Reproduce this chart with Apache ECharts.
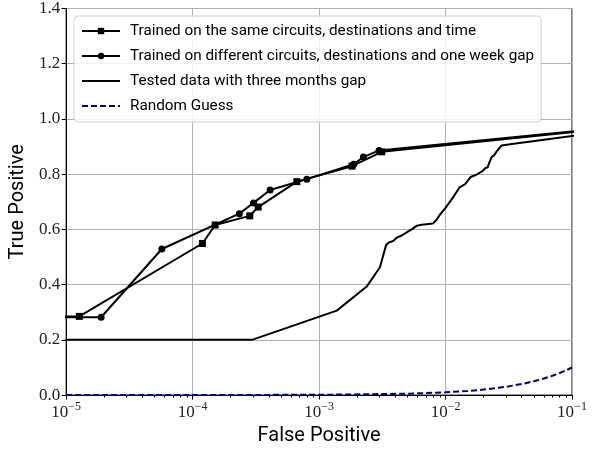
<!DOCTYPE html>
<html><head><meta charset="utf-8">
<script src="https://cdn.jsdelivr.net/npm/echarts@6/dist/echarts.min.js"></script>
<style>html,body{margin:0;padding:0;background:#fff}#c{width:598px;height:451px}</style>
</head><body><div id="c"></div>
<script>
const seriesNames = [
  'Trained on the same circuits, destinations and time',
  'Trained on different circuits, destinations and one week gap',
  'Tested data with three months gap',
  'Random Guess'
];
const sameX = [1e-6, 1.27e-5, 1.195e-4, 1.507e-4, 2.83e-4, 3.30e-4, 6.67e-4, 1.82e-3, 3.13e-3, 1];
const sameY = [0.285, 0.285, 0.549, 0.616, 0.649, 0.681, 0.773, 0.829, 0.881, 1];
const diffX = [1e-6, 1.89e-5, 5.71e-5, 2.34e-4, 3.03e-4, 4.10e-4, 8.0e-4, 1.88e-3, 2.24e-3, 2.98e-3, 1];
const diffY = [0.282, 0.282, 0.529, 0.657, 0.696, 0.743, 0.782, 0.836, 0.862, 0.886, 1];
const testX = [1e-6, 2.95e-4, 1.38e-3, 2.38e-3, 3.03e-3, 3.39e-3, 3.55e-3, 3.68e-3, 3.85e-3, 4.11e-3, 4.5e-3, 4.93e-3, 5.4e-3, 5.91e-3, 6.5e-3, 7.92e-3, 8.4e-3, 9.05e-3, 1.0e-2, 1.15e-2, 1.29e-2, 1.43e-2, 1.58e-2, 1.75e-2, 1.87e-2, 1.97e-2, 2.05e-2, 2.15e-2, 2.22e-2, 2.32e-2, 2.42e-2, 2.54e-2, 2.78e-2, 3.24e-2, 1];
const testY = [0.2, 0.2, 0.306, 0.393, 0.463, 0.544, 0.552, 0.556, 0.558, 0.570, 0.578, 0.589, 0.600, 0.613, 0.617, 0.621, 0.632, 0.654, 0.678, 0.717, 0.752, 0.764, 0.790, 0.798, 0.806, 0.812, 0.821, 0.825, 0.842, 0.863, 0.868, 0.883, 0.904, 0.908, 1];
const randX = [1e-5, 1e-3, 5e-3, 1e-2, 1.5e-2, 2e-2, 3e-2, 4e-2, 5e-2, 6e-2, 7e-2, 8e-2, 9e-2, 0.1];
const randY = [1e-5, 1e-3, 5e-3, 1e-2, 1.5e-2, 2e-2, 3e-2, 4e-2, 5e-2, 6e-2, 7e-2, 8e-2, 9e-2, 0.1];
const yTicks = [0.0, 0.2, 0.4, 0.6, 0.8, 1.0, 1.2, 1.4];
const xMin = 1e-5, xMax = 1e-1;

const zip = (xs, ys) => xs.map((x, i) => [x, ys[i]]);
const minorVals = [];
for (let d = -5; d < -1; d++) for (let m = 2; m <= 9; m++) minorVals.push(m * Math.pow(10, d));

const serif = "'Liberation Serif', 'DejaVu Serif', serif";
const sans = "Roboto, 'Liberation Sans', sans-serif";

const chart = echarts.init(document.getElementById('c'), null, {renderer: 'canvas'});
chart.setOption({
  animation: false,
  backgroundColor: '#fff',
  grid: {left: 66, right: 26, top: 7, bottom: 52, show: true, borderColor: '#000', borderWidth: 1, backgroundColor: 'transparent'},
  legend: {
    orient: 'vertical', left: 74, top: 16,
    padding: [7, 7, 8, 7],
    itemWidth: 38, itemHeight: 8, itemGap: 9,
    backgroundColor: 'rgba(255,255,255,0.85)',
    borderColor: '#d0d0d0', borderWidth: 1, borderRadius: 4,
    textStyle: {fontFamily: sans, fontSize: 15.3, lineHeight: 16, color: '#000', padding: [0, 0, 0, 5]},
    data: [
      seriesNames[0],
      seriesNames[1],
      {name: seriesNames[2], itemStyle: {opacity: 0}},
      {name: seriesNames[3], itemStyle: {opacity: 0}}
    ]
  },
  xAxis: [{
    type: 'log', logBase: 10, min: xMin, max: xMax,
    name: 'False Positive', nameLocation: 'middle', nameGap: 28,
    nameTextStyle: {fontFamily: sans, fontSize: 20, color: '#000'},
    axisLine: {show: true, lineStyle: {color: '#000', width: 1}},
    axisTick: {show: true, length: 4.5, lineStyle: {color: '#000'}},
    axisLabel: {
      margin: 6,
      formatter: v => '{b|10}{s|\u2212' + Math.round(-Math.log10(v)) + '}',
      rich: {
        b: {fontFamily: serif, fontSize: 17, color: '#222', lineHeight: 20, verticalAlign: 'bottom'},
        s: {fontFamily: serif, fontSize: 12, color: '#222', lineHeight: 12, verticalAlign: 'top'}
      }
    },
    splitLine: {show: true, lineStyle: {color: '#b0b0b0', width: 1}}
  }, {
    type: 'log', logBase: 10, min: xMin, max: xMax, position: 'bottom',
    axisLine: {show: false}, axisLabel: {show: false}, splitLine: {show: false},
    axisTick: {show: true, length: 2.5, customValues: minorVals, lineStyle: {color: '#000'}}
  }],
  yAxis: {
    type: 'value', min: 0, max: 1.4, interval: 0.2,
    name: 'True Positive', nameLocation: 'middle', nameGap: 29,
    nameTextStyle: {fontFamily: sans, fontSize: 20, color: '#000'},
    axisLine: {show: true, lineStyle: {color: '#000', width: 1}},
    axisTick: {show: true, length: 4.5, lineStyle: {color: '#000'}},
    axisLabel: {margin: 6, fontFamily: serif, fontSize: 17, color: '#222', formatter: v => v.toFixed(1)},
    splitLine: {show: true, lineStyle: {color: '#b0b0b0', width: 1}}
  },
  series: [
    {name: seriesNames[0], type: 'line', data: zip(sameX, sameY), symbol: 'rect', symbolSize: 7,
     itemStyle: {color: '#000'}, lineStyle: {color: '#000', width: 2}, clip: true, z: 4},
    {name: seriesNames[1], type: 'line', data: zip(diffX, diffY), symbol: 'circle', symbolSize: 7,
     itemStyle: {color: '#000'}, lineStyle: {color: '#000', width: 2}, clip: true, z: 3},
    {name: seriesNames[2], type: 'line', data: zip(testX, testY), symbol: 'none',
     itemStyle: {color: '#000'}, lineStyle: {color: '#000', width: 2}, clip: true, z: 2},
    {name: seriesNames[3], type: 'line', data: zip(randX, randY), symbol: 'none',
     itemStyle: {color: '#000080'}, lineStyle: {color: '#000080', width: 2, type: [6, 3]}, clip: true, z: 2}
  ]
});
</script></body></html>
